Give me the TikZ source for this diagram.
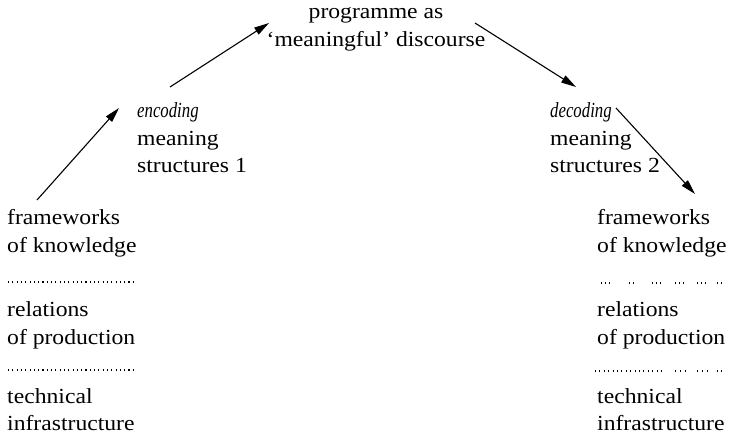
\documentclass[tikz,border=0pt]{standalone}
\usepackage{fontspec}
\setmainfont{Liberation Serif}[FakeStretch=1.1]
\newfontfamily\itf{Liberation Serif}[FakeStretch=0.78]
\usetikzlibrary{arrows.meta}
\begin{document}
\begin{tikzpicture}[x=1pt,y=-1pt,
  lbl/.style={inner sep=0pt,font=\fontsize{21.5}{28}\selectfont},
  lw/.style={lbl,anchor=base west},
  itl/.style={lw,font=\itf\itshape\fontsize{21.5}{28}\selectfont},
  arr/.style={line width=1.1pt,-{Triangle[length=15pt,width=8pt]}},
  dots/.style={line width=1.1pt,dash pattern=on 1.1pt off 3.2pt}]
\useasboundingbox (0,0) rectangle (730,436);
% top
\node[lbl,anchor=base] (top1) at (376,19) {programme as};
\node[lbl,anchor=base] (top2) at (376,47) {`meaningful' discourse};
% encoding
\node[itl] (enc1) at (137,117) {encoding};
\node[lw] (enc2) at (137,145) {meaning};
\node[lw] (enc3) at (137,172) {structures 1};
% decoding
\node[itl] (dec1) at (550,117) {decoding};
\node[lw] (dec2) at (550,145) {meaning};
\node[lw] (dec3) at (550,172) {structures 2};
% left column
\node[lw] (L1) at (7,224) {frameworks};
\node[lw] (L2) at (7,252) {of knowledge};
\node[lw] (L3) at (7,316) {relations};
\node[lw] (L4) at (7,344) {of production};
\node[lw] (L5) at (7,403) {technical};
\node[lw] (L6) at (7,430) {infrastructure};
% right column
\node[lw] (R1) at (597,224) {frameworks};
\node[lw] (R2) at (597,252) {of knowledge};
\node[lw] (R3) at (597,316) {relations};
\node[lw] (R4) at (597,344) {of production};
\node[lw] (R5) at (597,403) {technical};
\node[lw] (R6) at (597,430) {infrastructure};
% dotted separators
\draw[dots] (8,282) -- (134,282);
\draw[dots] (8,370) -- (136,370);
\draw[line width=1.1pt,dash pattern=on 1pt off 3pt on 1pt off 3pt on 1pt off 19pt on 1pt off 3pt on 1pt off 18pt on 1pt off 3pt on 1pt off 3pt on 1pt off 14pt on 1pt off 3pt on 1pt off 3pt on 1pt off 13pt on 1pt off 3pt on 1pt off 3pt on 1pt off 11pt on 1pt off 3pt on 1pt off 100pt] (601,283) -- (723,283);
\draw[line width=1.1pt,dash pattern=on 1pt off 3.4pt] (595,371) -- (663,371);
\draw[line width=1.1pt,dash pattern=on 1pt off 4pt on 1pt off 4pt on 1pt off 11pt on 1pt off 4pt on 1pt off 4pt on 1pt off 9pt on 1pt off 3pt on 1pt off 100pt] (675,371) -- (723,371);
% arrow end points
\coordinate (a1s) at ([shift={(30,-24)}]L1.base west);
\coordinate (a1e) at ([shift={(-18,-9)}]enc1.base west);
\coordinate (a2s) at ([shift={(33,-30)}]enc1.base west);
\coordinate (a2e) at ([shift={(-107,4)}]top1.base);
\coordinate (a3s) at ([shift={(99,4)}]top1.base);
\coordinate (a3e) at ([shift={(26,-30)}]dec1.base west);
\coordinate (a4s) at ([shift={(66,-9)}]dec1.base west);
\coordinate (a4e) at ([shift={(98,-30)}]R1.base west);
\draw[arr] (a1s) -- (a1e);
\draw[arr] (a2s) -- (a2e);
\draw[arr] (a3s) -- (a3e);
\draw[arr] (a4s) -- (a4e);
\end{tikzpicture}
\end{document}
